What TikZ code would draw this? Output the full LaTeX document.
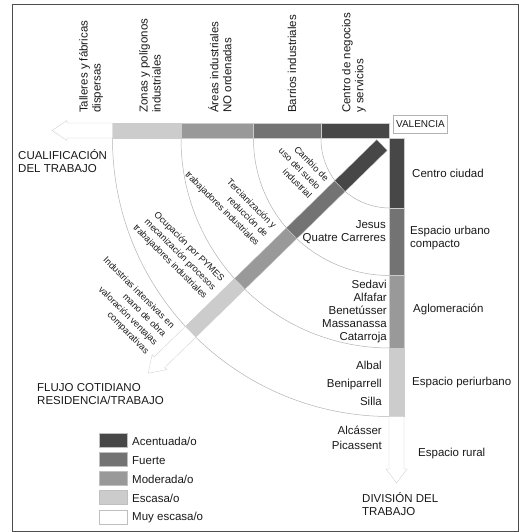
\documentclass[tikz,border=0pt]{standalone}
\usepackage{fontspec}
\setmainfont{Liberation Sans}
\definecolor{acentuada}{gray}{0.28}
\definecolor{fuerte}{gray}{0.45}
\definecolor{moderada}{gray}{0.60}
\definecolor{escasa}{gray}{0.80}
\definecolor{muyescasa}{gray}{1}
\tikzset{
  lbl/.style={font=\fontsize{11.5}{13}\selectfont, text=black!90, inner sep=0pt},
  obl/.style={font=\fontsize{9.2}{12}\selectfont, text=black!90, inner sep=0pt, rotate=-45, align=right, anchor=east},
  seg/.style={draw=black!20, line width=0.3pt},
  arco/.style={draw=black!30, line width=0.5pt}
}
\begin{document}
\begin{tikzpicture}[x=1pt, y=-1pt]
\useasboundingbox (0,0) rectangle (524,532);
\draw [black!70, line width=0.9pt] (12,4) rectangle (518,531);

\begin{scope}
\clip (0,139) rectangle (390,532);
\foreach \r in {69,136.5,209,277.5}
  \draw [arco] (390,139) circle [radius=\r];
\end{scope}

\draw [seg, fill=acentuada] (321,123) rectangle (389,138);
\draw [seg, fill=fuerte] (253.5,123) rectangle (321,138);
\draw [seg, fill=moderada] (181,123) rectangle (253.5,138);
\draw [seg, fill=escasa] (112.5,123) rectangle (181,138);
\draw [seg, fill=muyescasa] (112.5,123) -- (67,123) -- (67,120.5) -- (52,130.5) -- (67,140.5) -- (67,138) -- (112.5,138) -- cycle;

\draw [seg, fill=acentuada] (389,138) rectangle (404,208);
\draw [seg, fill=fuerte] (389,208) rectangle (404,275.5);
\draw [seg, fill=moderada] (389,275.5) rectangle (404,348);
\draw [seg, fill=escasa] (389,348) rectangle (404,416.5);
\draw [seg, fill=muyescasa] (389,416.5) -- (389,469) -- (386,469) -- (396.5,483) -- (407,469) -- (404,469) -- (404,416.5) -- cycle;

\begin{scope}[shift={(382,145)}, rotate=224.3]
\draw [seg, fill=acentuada] (0,-7.5) rectangle (59,7.5);
\draw [seg, fill=fuerte] (59,-7.5) rectangle (126.5,7.5);
\draw [seg, fill=moderada] (126.5,-7.5) rectangle (199,7.5);
\draw [seg, fill=escasa] (199,-7.5) rectangle (267.5,7.5);
\draw [seg, fill=muyescasa] (267.5,-7.5) -- (311,-7.5) -- (311,-10.5) -- (326.7,0) -- (311,10.5) -- (311,7.5) -- (267.5,7.5) -- cycle;
\end{scope}

\node [lbl, rotate=90, anchor=west, align=left] (talleres) at (91,113) {Talleres y fábricas\\dispersas};
\node [lbl, rotate=90, anchor=west, align=left] (zonas) at (150,113) {Zonas y polígonos\\industriales};
\node [lbl, rotate=90, anchor=west, align=left] (areas) at (220,113) {Áreas industriales\\NO ordenadas};
\node [lbl, rotate=90, anchor=west] (barrios) at (292,113) {Barrios industriales};
\node [lbl, rotate=90, anchor=west, align=left] (centro) at (354,113) {Centro de negocios\\y servicios};
\node [draw=black!30, font=\fontsize{10}{12}\selectfont, text=black!90, inner xsep=2.5pt, minimum height=18pt] (valencia) at (420.5,124) {VALENCIA};

\node [lbl, anchor=west, align=left] (cualif) at (18,161.5) {CUALIFICACIÓN\\DEL TRABAJO};
\node [lbl, anchor=west, align=left] (flujo) at (37,394) {FLUJO COTIDIANO\\RESIDENCIA/TRABAJO};
\node [lbl, anchor=west, align=left] (division) at (362,504.5) {DIVISIÓN DEL\\TRABAJO};

\node [lbl, anchor=west] (ciudad) at (412,173) {Centro ciudad};
\node [lbl, anchor=west, align=left] (compacto) at (410,238.5) {Espacio urbano\\compacto};
\node [lbl, anchor=west] (aglom) at (413,309) {Aglomeración};
\node [lbl, anchor=west] (periurb) at (412,383) {Espacio periurbano};
\node [lbl, anchor=west] (rural) at (418,454) {Espacio rural};

\node [lbl, anchor=east, align=right] (jesus) at (386,232) {Jesus\\Quatre Carreres};
\node [lbl, anchor=east, align=right] (sedavi) at (387,312) {Sedavi\\Alfafar\\Benetússer\\Massanassa\\Catarroja};
\node [lbl, anchor=east, align=right] (albal) at (382,383) {Albal\\[5pt]Beniparrell\\[5pt]Silla};
\node [lbl, anchor=east, align=right] (alcasser) at (382,437.5) {Alcásser\\[2pt]Picassent};

\node [obl] (cambio) at (319,188) {Cambio de\\uso del suelo\\industrial};
\node [obl] (terciar) at (266,236) {Tercianización y\\reducción de\\trabajadores industriales};
\node [obl] (pymes) at (214,289) {Ocupación por PYMES\\mecanización procesos\\trabajadores industriales};
\node [obl] (intens) at (160,340) {Industrias intensivas en\\mano de obra\\valoración ventajas\\comparativas};

\foreach \c/\t [count=\i from 0] in {acentuada/{Acentuada/o}, fuerte/Fuerte, moderada/{Moderada/o}, escasa/{Escasa/o}, muyescasa/{Muy escasa/o}} {
  \pgfmathsetmacro\yy{440+19.2*\i}
  \draw [seg, draw=black!25, fill=\c] (99,\yy-7) rectangle (127,\yy+7);
  \node [lbl, anchor=west] (ley\i) at (132,\yy+1) {\t};
}
\end{tikzpicture}
\end{document}
